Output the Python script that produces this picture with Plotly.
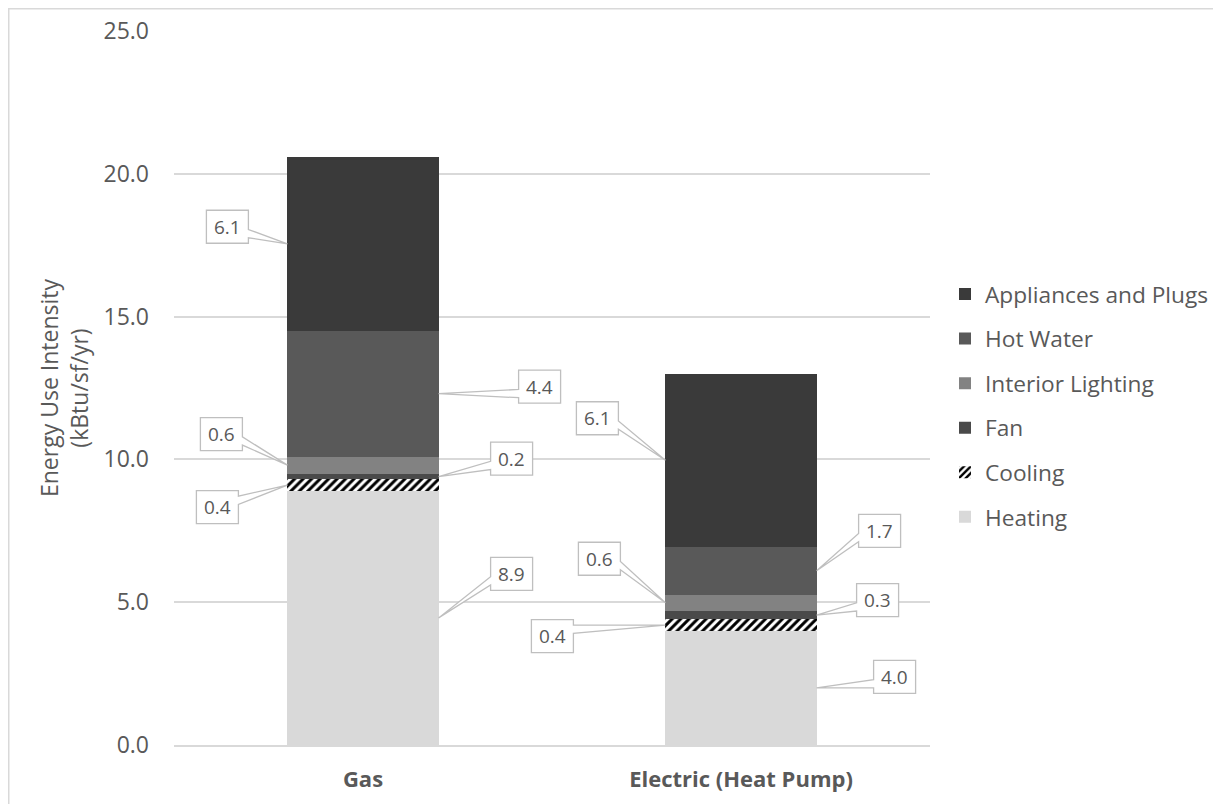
import plotly.graph_objects as go

# ---------------- data ----------------
categories = ["Gas", "Electric (Heat Pump)"]
series_names = ["Heating", "Cooling", "Fan", "Interior Lighting", "Hot Water", "Appliances and Plugs"]
heating = [8.9, 4.0]
cooling = [0.4, 0.4]
fan = [0.2, 0.3]
interior_lighting = [0.6, 0.56]
hot_water = [4.4, 1.68]
appliances_plugs = [6.1, 6.06]
y_tick_values = [0, 5, 10, 15, 20, 25]

series_values = [heating, cooling, fan, interior_lighting, hot_water, appliances_plugs]

# ---------------- styles / layout ----------------
colors = ["#d9d9d9", "#ffffff", "#4a4a4a", "#828282", "#595959", "#3a3a3a"]
TEXT = "#595959"
GRID = "#d9d9d9"
FONT = "Open Sans, Noto Sans, sans-serif"
BAR_W = 0.4

# callout box offsets (px, screen coords, from bar-edge tip to box centre)
label_offsets = [
    [(73, -44), (78, -11)],     # Heating
    [(-70, 22), (-113, 11)],    # Cooling
    [(73, -18), (61, -15)],     # Fan
    [(-66, -31), (-66, -44)],   # Interior Lighting
    [(101, -7), (63, -40)],     # Hot Water
    [(-60, -17), (-68, -42)],   # Appliances and Plugs
]
BOX_W, BOX_H = 42, 33

# page has an 8px body margin; figure sized to fit in the 1221x804 window
W, H = 1213, 796
ML, MT = 166, 23
MR = W - 922
MB = H - 737
PW, PH = W - ML - MR, H - MT - MB

x_pos = list(range(len(categories)))

fig = go.Figure()
n = len(series_names)
for k, (name, vals) in enumerate(zip(series_names, series_values)):
    marker = dict(color=colors[k], line=dict(width=0))
    if name == "Cooling":
        marker["pattern"] = dict(shape="/", fgcolor="#000000", bgcolor="#ffffff",
                                 size=6, solidity=0.5, fillmode="replace")
    fig.add_trace(go.Bar(
        x=x_pos, y=vals, name=name, width=BAR_W, marker=marker,
        legendgroup=name, legendrank=n - k, hoverinfo="y+name",
    ))


def wedge_path(dx, dy, w, h):
    """Excel-style wedge rectangle callout; tip at (0,0), box centre at (dx,dy) (screen coords)."""
    l, r, t, b = dx - w / 2, dx + w / 2, dy - h / 2, dy + h / 2
    xPos, yPos = 0.0, 0.0
    dxPos, dyPos = -dx, -dy
    dq = dxPos * h / w
    dz = abs(dyPos) - abs(dq)
    xg1, xg2 = (7, 10) if dxPos > 0 else (2, 5)
    yg1, yg2 = (7, 10) if dyPos > 0 else (2, 5)
    x1, x2 = l + w * xg1 / 12, l + w * xg2 / 12
    y1, y2 = t + h * yg1 / 12, t + h * yg2 / 12
    if dz > 0:
        xl, yl = l, y1
        xr, yr = r, y1
        xt, yt = (x1, t) if dyPos > 0 else (xPos, yPos)
        xb, yb = (xPos, yPos) if dyPos > 0 else (x1, b)
    else:
        xl, yl = (l, y1) if dxPos > 0 else (xPos, yPos)
        xr, yr = (xPos, yPos) if dxPos > 0 else (r, y1)
        xt, yt = x1, t
        xb, yb = x1, b
    pts = [(l, t), (x1, t), (xt, yt), (x2, t), (r, t), (r, y1), (xr, yr), (r, y2),
           (r, b), (x2, b), (xb, yb), (x1, b), (l, b), (l, y2), (xl, yl), (l, y1)]
    return "M " + " L ".join(f"{px:.2f},{-py:.2f}" for px, py in pts) + " Z"


shapes = []
annotations = []
for ci in range(len(categories)):
    base = 0.0
    for k, vals in enumerate(series_values):
        v = vals[ci]
        mid = base + v / 2
        base += v
        dx, dy = label_offsets[k][ci]
        side = 1 if dx > 0 else -1
        tip_x = x_pos[ci] + side * BAR_W / 2
        shapes.append(dict(
            type="path", xref="x", yref="y", xsizemode="pixel", ysizemode="pixel",
            xanchor=tip_x, yanchor=mid, path=wedge_path(dx, dy, BOX_W, BOX_H),
            fillcolor="#ffffff", line=dict(color="#bfbfbf", width=1.3), layer="above",
        ))
        annotations.append(dict(
            x=tip_x, y=mid, xref="x", yref="y", xshift=dx, yshift=-dy,
            text=f"{v:.1f}", showarrow=False, xanchor="center", yanchor="middle",
            font=dict(family=FONT, size=19, color=TEXT),
        ))

# outer chart border (left/top edges visible; right/bottom fall off the page)
shapes.append(dict(
    type="rect", xref="paper", yref="paper",
    x0=(0.75 - ML) / PW, x1=(W + 10 - ML) / PW,
    y0=-(MB + 10) / PH, y1=(PH + MT - 0.75) / PH,
    line=dict(color="#d9d9d9", width=1.5), fillcolor="rgba(0,0,0,0)", layer="below",
))

fig.update_layout(
    width=W, height=H,
    margin=dict(l=ML, r=MR, t=MT, b=MB, autoexpand=False),
    barmode="stack",
    plot_bgcolor="#ffffff", paper_bgcolor="#ffffff",
    font=dict(family=FONT, color=TEXT),
    shapes=shapes, annotations=annotations,
    legend=dict(
        x=(945 - 8 - ML) / PW, xanchor="left", y=0.475, yanchor="middle",
        traceorder="grouped", tracegroupgap=12,
        font=dict(family=FONT, size=22.7, color=TEXT),
        bgcolor="rgba(0,0,0,0)",
    ),
    xaxis=dict(
        range=[-0.5, 1.5], tickmode="array", tickvals=x_pos, ticktext=categories,
        tickfont=dict(family=FONT, size=22, color=TEXT, weight="bold"),
        showgrid=False, zeroline=False, showline=True, linecolor=GRID, linewidth=1.5,
        ticks="", ticklabelstandoff=14, fixedrange=True,
    ),
    yaxis=dict(
        range=[0, 25], tickmode="array", tickvals=y_tick_values,
        ticktext=[f"{t:.1f}" for t in y_tick_values],
        tickfont=dict(family=FONT, size=23, color=TEXT),
        showgrid=True, gridcolor=GRID, gridwidth=1.5, zeroline=False, showline=False,
        ticks="", ticklabelstandoff=24,
        title=dict(text="Energy Use Intensity<br>(kBtu/sf/yr)",
                   font=dict(family=FONT, size=23, color=TEXT), standoff=8),
        fixedrange=True,
    ),
    showlegend=True,
)

fig.write_html("out.html")
